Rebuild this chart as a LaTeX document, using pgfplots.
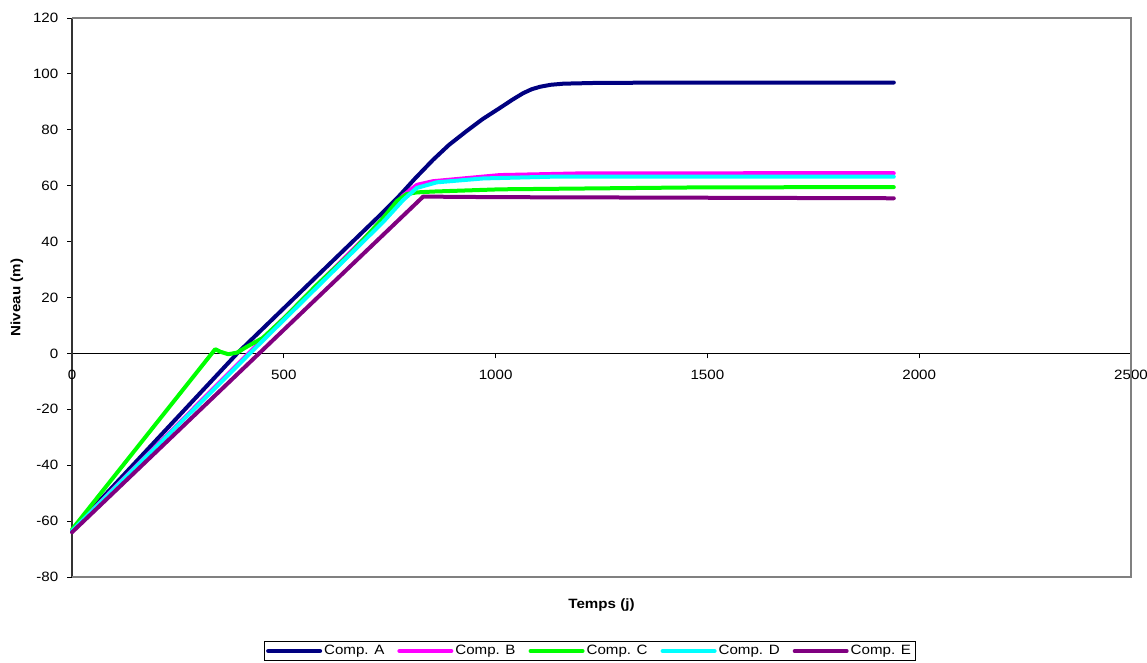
\documentclass[border=0pt]{standalone}
\usepackage{fontspec}
\setmainfont{Liberation Sans}[FakeStretch=1.12]
\usepackage{pgfplots}
\pgfplotsset{compat=1.18}

\definecolor{compA}{RGB}{0,0,128}
\definecolor{compB}{RGB}{255,0,255}
\definecolor{compC}{RGB}{0,255,0}
\definecolor{compD}{RGB}{0,255,255}
\definecolor{compE}{RGB}{128,0,128}
\definecolor{framegray}{RGB}{128,128,128}

\newcommand{\chartfont}{\fontsize{13.5pt}{16pt}\selectfont}

\begin{document}
\chartfont
\begin{tikzpicture}
\begin{axis}[
  name=ax,
  scale only axis,
  width=1059pt, height=559pt,
  xmin=0, xmax=2500, ymin=-80, ymax=120,
  xtick={0,500,...,2500}, ytick={-80,-60,...,120},
  axis x line=middle, axis y line=left,
  hide obscured x ticks=false,
  hide obscured y ticks=false,
  axis line style={-},
  x axis line style={black, line width=0.8pt},
  y axis line style={black!80, line width=1.5pt},
  tick align=outside,
  major tick length=5pt,
  tick style={black, line width=0.8pt},
  xticklabel style={yshift=-7pt},
  yticklabel style={xshift=-4pt},
  ticklabel style={font=\chartfont},
  /pgf/number format/assume math mode=true,
  /pgf/number format/set thousands separator={},
  clip=false,
  every axis plot/.append style={line width=4pt, line cap=round, line join=round},
  legend image code/.code={\draw[#1] (0pt,0pt) -- (52pt,0pt);},
  legend columns=5,
  legend style={at={(0.4887,-0.1145)}, anchor=north, draw=black, line width=0.6pt,
    font=\chartfont, inner sep=2pt,
    /tikz/every even column/.append style={column sep=11pt}},
]
\draw[framegray, line width=1.6pt] (rel axis cs:0,0) -- (rel axis cs:1,0) -- (rel axis cs:1,1) -- (rel axis cs:0,1);

% Comp. A
\addplot[compA] coordinates {
(0,-63.5) (45,-56) (390,0) (578,27.6) (735,50.6) (774,56.6) (810,62.6) (852,69.2)
(890,74.6) (932,79.6) (970,83.9) (1010,87.8) (1040,90.8) (1065,93.1) (1085,94.5)
(1105,95.4) (1130,96.1) (1160,96.5) (1246,96.8) (1500,96.9) (1940,96.9)
};
\addlegendentry{Comp. A}
% Comp. B
\addplot[compB] coordinates {
(0,-63.5) (45,-56.5) (420,0.5) (735,48) (782,56.5) (814,60.3) (852,61.6)
(1010,63.8) (1200,64.4) (1940,64.5)
};
\addlegendentry{Comp. B}
% Comp. C
\addplot[compC] coordinates {
(0,-63) (338,1.5) (350,0.6) (369,-0.3) (390,0.3) (413,2.4) (450,5.5) (500,12.5)
(578,24.5) (656,35.5) (735,48.5) (767,54.5) (790,57) (814,57.6) (852,57.9)
(1010,58.7) (1483,59.4) (1940,59.5)
};
\addlegendentry{Comp. C}
% Comp. D
\addplot[compD] coordinates {
(0,-63.5) (45,-56.7) (420,0) (735,47.1) (782,54.9) (814,59.2) (861,61.2)
(971,62.6) (1128,63.2) (1940,63.2)
};
\addlegendentry{Comp. D}
% Comp. E
\addplot[compE] coordinates {
(0,-64) (829,56.1) (1000,55.9) (1940,55.5)
};
\addlegendentry{Comp. E}

\node[font=\bfseries] at ([yshift=-28pt]rel axis cs:0.5,0) {Temps (j)};
\node[font=\bfseries, rotate=90] at ([xshift=-55pt]rel axis cs:0,0.5) {Niveau (m)};
\end{axis}
\pgfresetboundingbox
\path ([shift={(-72pt,-86pt)}]ax.south west) rectangle ([shift={(16pt,18pt)}]ax.north east);
\end{tikzpicture}
\end{document}
